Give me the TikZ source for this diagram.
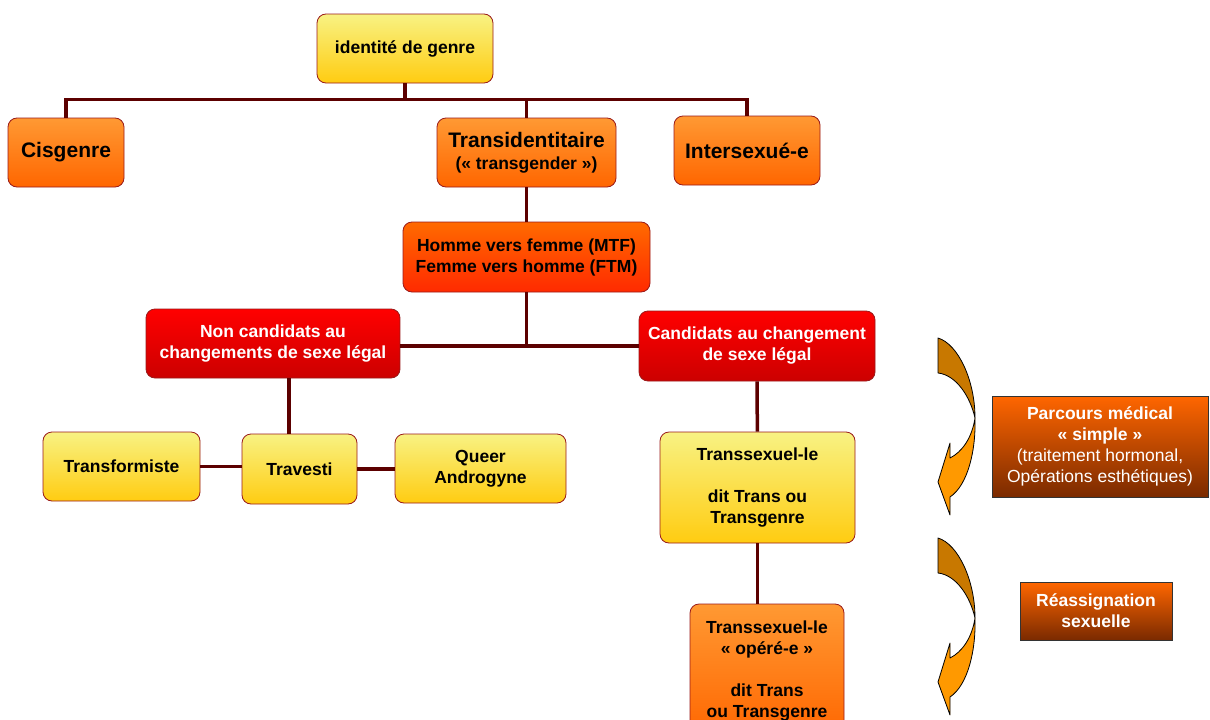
\documentclass[tikz,border=0pt]{standalone}
\usepackage{fontspec}
\setmainfont{Liberation Sans}
\usetikzlibrary{positioning,calc}
\definecolor{linkcol}{HTML}{5C0000}
\definecolor{boxedge}{HTML}{991A1A}
\definecolor{yellowtop}{HTML}{F8F283}
\definecolor{yellowbot}{HTML}{FFCC11}
\definecolor{orangetop}{HTML}{FF9933}
\definecolor{orangebot}{HTML}{FF6600}
\definecolor{hftop}{HTML}{FF6A00}
\definecolor{hfbot}{HTML}{FF2A00}
\definecolor{redtop}{HTML}{FF0000}
\definecolor{redbot}{HTML}{CC0000}
\definecolor{browntop}{HTML}{FF6600}
\definecolor{brownbot}{HTML}{7A2A00}
\definecolor{arrowdark}{HTML}{C87800}
\definecolor{arrowlight}{HTML}{FF9900}
\tikzset{
box/.style = {draw=boxedge, line width=0.8pt, rounded corners=9pt, align=center, inner sep=1pt, font=\bfseries\fontsize{17.5}{21}\selectfont},
bigtext/.style = {font=\bfseries\fontsize{21}{23}\selectfont},
yellowbox/.style = {box, top color=yellowtop, bottom color=yellowbot},
orangebox/.style = {box, top color=orangetop, bottom color=orangebot},
hfbox/.style = {box, top color=hftop, bottom color=hfbot},
redbox/.style = {box, top color=redtop, bottom color=redbot, text=white},
stepnote/.style = {draw=black!80, line width=1pt, align=center, top color=browntop, bottom color=brownbot, text=white, font=\fontsize{17.5}{21}\selectfont},
link/.style = {draw=linkcol, line width=3.5pt},
curvearrow/.style = {draw=black, line width=0.8pt, line join=round}
}
\begin{document}
\begin{tikzpicture}[x=1pt, y=-1pt]
\useasboundingbox (0,0) rectangle (1210,720);
\clip (0,0) rectangle (1210,720);
% tree
\node[yellowbox, minimum width=176pt, minimum height=69pt] (root) at (405,48.5) {identité de genre};
\node[orangebox, bigtext, below of=root, node distance=104pt, xshift=121.5pt, minimum width=179pt, minimum height=69pt] (trans) {Transidentitaire\\[-1pt]{\fontsize{17.5}{21}\selectfont(« transgender »)}};
\node[orangebox, bigtext, left of=trans, node distance=460.5pt, minimum width=116pt, minimum height=69pt] (cis) {Cisgenre};
\node[orangebox, bigtext, right of=trans, node distance=220.5pt, yshift=2pt, minimum width=146pt, minimum height=69pt] (inter) {Intersexué-e};
\node[hfbox, below of=trans, node distance=104.5pt, minimum width=247pt, minimum height=70pt] (hf) {Homme vers femme (MTF)\\Femme vers homme (FTM)};
\node[redbox, below of=hf, node distance=86.5pt, xshift=-253.5pt, minimum width=254pt, minimum height=69pt] (noncand) {Non candidats au\\changements de sexe légal};
\node[redbox, below of=hf, node distance=89pt, xshift=230.5pt, minimum width=236pt, minimum height=70pt] (cand) {Candidats au changement\\de sexe légal};
\node[yellowbox, below of=noncand, node distance=125.5pt, xshift=26.5pt, minimum width=115pt, minimum height=70pt] (trav) {Travesti};
\node[yellowbox, left of=trav, node distance=178pt, yshift=2.5pt, minimum width=157pt, minimum height=69pt] (transf) {Transformiste};
\node[yellowbox, right of=trav, node distance=181pt, yshift=0.5pt, minimum width=171pt, minimum height=69pt] (queer) {Queer\\Androgyne};
\node[yellowbox, below of=cand, node distance=141.5pt, xshift=0.5pt, minimum width=195pt, minimum height=111pt] (tsx) {Transsexuel-le\\[21pt]dit Trans ou\\Transgenre};
\node[orangebox, below of=tsx, node distance=183.5pt, xshift=9.5pt, minimum width=154pt, minimum height=134pt] (opere) {Transsexuel-le\\« opéré-e »\\[21pt]dit Trans\\ou Transgenre};
% side notes
\node[stepnote, minimum width=216pt, minimum height=101pt] (parcours) at (1100,446.5) {\textbf{Parcours médical}\\\textbf{« simple »}\\(traitement hormonal,\\Opérations esthétiques)};
\node[stepnote, font=\bfseries\fontsize{17.5}{21}\selectfont, minimum width=152pt, minimum height=58pt] (reass) at (1096,611) {Réassignation\\sexuelle};
% connectors
\draw[link] (root.south) -- ++(0,16) coordinate (bus);
\draw[link] (cis.north) |- (bus) -| (inter.north);
\draw[link] (bus -| trans.north) -- (trans.north);
\draw[link] (trans) -- (hf);
\draw[link] (hf.south) -- (hf.south |- cand.west);
\draw[link] (noncand.east |- cand.west) -- (cand.west);
\draw[link] ([xshift=-10.5pt]trav.north) -- ([xshift=-10.5pt]trav.north |- noncand.south);
\draw[link] (transf.east) -- (transf.east -| trav.west);
\draw[link] (trav.east) -- (trav.east -| queer.west);
\draw[link] (cand) -- (tsx);
\draw[link] (tsx.south) -- (tsx.south |- opere.north);
% curved arrows
\foreach \dy in {0,200} {
  \begin{scope}[shift={(0,\dy)}]
    \filldraw[curvearrow, fill=arrowlight] (975,418) .. controls (976,450) and (968,485) .. (950,497) -- (950,515) -- (938,482) -- (950,443) -- (950,458) .. controls (962,452) and (972,438) .. (975,418) -- cycle;
    \filldraw[curvearrow, fill=arrowdark] (938,338) .. controls (958,344) and (975,380) .. (975,418) .. controls (970,396) and (956,375) .. (938,373) -- cycle;
  \end{scope}
}
\end{tikzpicture}
\end{document}
